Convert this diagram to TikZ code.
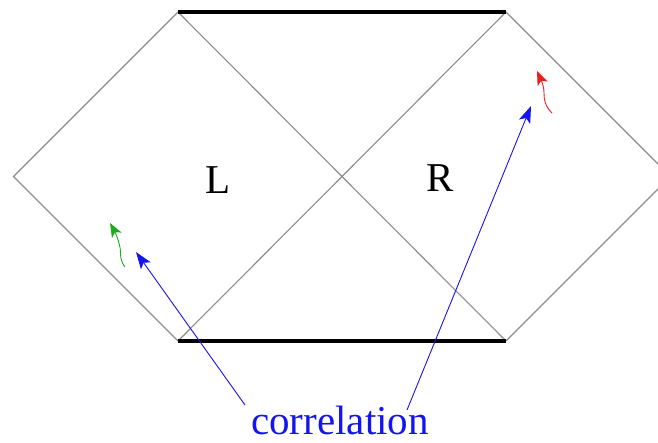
\documentclass[tikz,border=0pt]{standalone}
\usepackage{fontspec}
\setmainfont{Liberation Serif}
\usetikzlibrary{arrows.meta}
\definecolor{edgegray}{RGB}{140,140,140}
\definecolor{corrblue}{RGB}{20,20,240}
\definecolor{wgreen}{RGB}{30,170,30}
\definecolor{wred}{RGB}{235,30,30}
\begin{document}
\begin{tikzpicture}[x=1pt,y=-1pt,
  thinline/.style={draw=edgegray,line width=1.1pt},
  horizon/.style={draw=black,line width=4.5pt},
  corrarrow/.style={draw=corrblue,line width=0.9pt,-{Stealth[length=17pt,width=12pt,inset=4pt]}},
  wiggle/.style={line width=0.9pt,-{Stealth[length=14pt,width=11pt,inset=3.5pt]}},
  lab/.style={font=\fontsize{41}{41}\selectfont,inner sep=0pt}]
\useasboundingbox (0,0) rectangle (658,442);
\begin{scope}
\clip (0,0) rectangle (658,442);
\coordinate (TL) at (178,12);
\coordinate (TR) at (506,12);
\coordinate (BL) at (178,341);
\coordinate (BR) at (506,341);
\coordinate (LV) at (13.5,176.5);
\coordinate (RV) at (670.5,176.5);
\draw[thinline] (TL) -- (LV) -- (BL);
\draw[thinline] (TR) -- (RV) -- (BR);
\draw[thinline] (TL) -- (BR);
\draw[thinline] (BL) -- (TR);
\draw[horizon] (TL) -- (TR);
\draw[horizon] (BL) -- (BR);
\end{scope}
\node[lab] (L) at (218,180) {L};
\node[lab] (R) at (440,178) {R};
\node[lab,text=corrblue] (corr) at (340,420) {correlation};
\coordinate (la) at (245,405);
\coordinate (lt) at (136,252);
\coordinate (ra) at (407,410);
\coordinate (rt) at (531,106);
\draw[corrarrow] (la) -- (lt);
\draw[corrarrow] (ra) -- (rt);
\coordinate (g0) at (125,267);
\coordinate (g1) at (110,223);
\draw[wiggle,draw=wgreen] (g0) .. controls (118,258) and (122,250) .. (119,243)
  .. controls (117,236) and (115,232) .. (g1);
\coordinate (r0) at (552,113);
\coordinate (r1) at (537,71);
\draw[wiggle,draw=wred] (r0) .. controls (545,106) and (544,100) .. (544,93)
  .. controls (544,85) and (541,80) .. (r1);
\end{tikzpicture}
\end{document}
